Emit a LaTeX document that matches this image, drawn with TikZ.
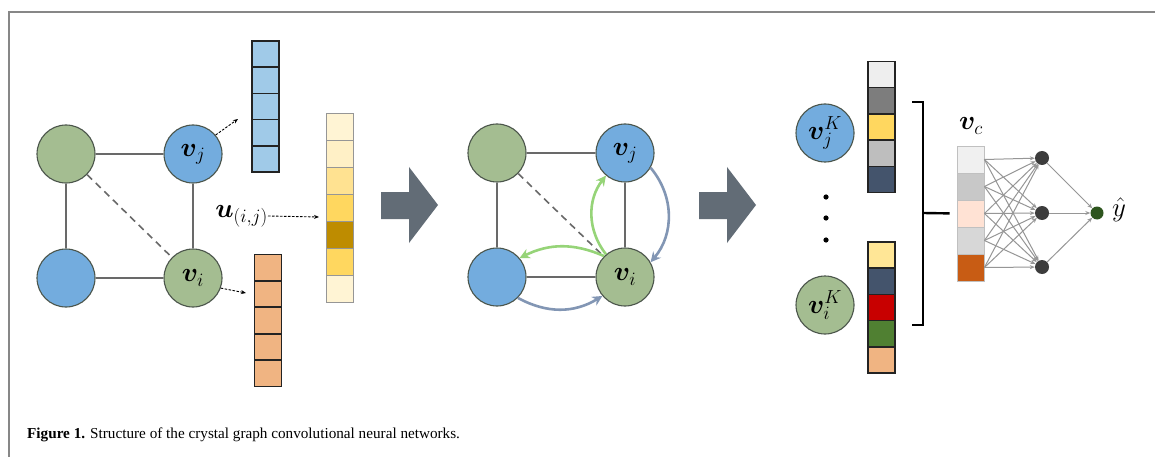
\RequirePackage{fix-cm}
\documentclass[tikz,border=0pt]{standalone}
\usepackage{fontspec}
\setmainfont{Liberation Serif}
\usepackage{amsmath,bm}
\usetikzlibrary{arrows.meta}
\begin{document}
\begin{tikzpicture}[x=1pt,y=-1pt,
  atom/.style={circle,draw=ringColor,line width=1.1pt,minimum size=58pt,inner sep=0pt,font=\fontsize{27}{30}\selectfont},
  bond/.style={draw=bondColor,line width=1.6pt},
  cell/.style={draw=cellColor,line width=1.3pt,minimum width=27pt,minimum height=26pt,inner sep=0pt},
  softcell/.style={draw=softColor,line width=0.8pt,minimum width=27pt,minimum height=27pt,inner sep=0pt},
  pointer/.style={draw=black,line width=0.9pt,dash pattern=on 2.5pt off 1.5pt,-{Stealth[length=5pt,width=4pt]}},
  hopgreen/.style={draw=hopGreen,line width=2.6pt,-{Stealth[length=10pt,width=10pt]}},
  hopblue/.style={draw=hopBlue,line width=2.6pt,-{Stealth[length=10pt,width=10pt]}},
  neuron/.style={circle,fill=neuronColor,minimum size=14pt,inner sep=0pt},
  wire/.style={draw=wireColor,line width=1pt,-{Stealth[length=5pt,width=4pt]}},
  mathlabel/.style={inner sep=0pt,font=\fontsize{27}{30}\selectfont}]
\definecolor{frameColor}{RGB}{135,135,135}
\definecolor{ringColor}{RGB}{75,85,75}
\definecolor{bondColor}{RGB}{105,105,105}
\definecolor{cellColor}{RGB}{35,35,35}
\definecolor{softColor}{RGB}{150,150,150}
\definecolor{atomGreen}{RGB}{164,189,145}
\definecolor{atomBlue}{RGB}{115,172,222}
\definecolor{hopGreen}{RGB}{150,212,120}
\definecolor{hopBlue}{RGB}{130,150,180}
\definecolor{arrowColor}{RGB}{98,108,118}
\definecolor{neuronColor}{RGB}{60,60,60}
\definecolor{outColor}{RGB}{45,85,30}
\definecolor{wireColor}{RGB}{150,150,150}
\definecolor{blueCell}{RGB}{160,202,232}
\definecolor{orangeCell}{RGB}{240,180,130}
\definecolor{yA}{RGB}{255,244,212}
\definecolor{yB}{RGB}{255,240,198}
\definecolor{yC}{RGB}{255,226,145}
\definecolor{yD}{RGB}{255,215,95}
\definecolor{yE}{RGB}{190,140,0}
\definecolor{kA}{RGB}{238,238,238}
\definecolor{kB}{RGB}{125,125,125}
\definecolor{kC}{RGB}{255,215,95}
\definecolor{kD}{RGB}{190,190,190}
\definecolor{kE}{RGB}{68,84,108}
\definecolor{kF}{RGB}{255,230,150}
\definecolor{kG}{RGB}{200,0,0}
\definecolor{kH}{RGB}{80,128,50}
\definecolor{kI}{RGB}{240,180,130}
\definecolor{cA}{RGB}{240,240,240}
\definecolor{cB}{RGB}{200,200,200}
\definecolor{cC}{RGB}{255,226,212}
\definecolor{cD}{RGB}{215,215,215}
\definecolor{cE}{RGB}{200,92,20}
\path[use as bounding box,fill=white] (0,0) rectangle (1155,457);

% frame
\path[draw=frameColor,line width=2pt] (1155,12) -- (8.5,12) -- (8.5,457);

% first graph
\node[atom,fill=atomGreen] (tl) at ( 66,154) {};
\node[atom,fill=atomBlue]  (vj) at (193,154) {$\bm{v}_j$};
\node[atom,fill=atomBlue]  (bl) at ( 66,278) {};
\node[atom,fill=atomGreen] (vi) at (193,278) {$\bm{v}_i$};
\path[bond] (tl) -- (vj);
\path[bond] (tl) -- (bl);
\path[bond] (vj) -- (vi);
\path[bond] (bl) -- (vi);
\path[bond,dashed,dash pattern=on 7pt off 5pt] (tl) -- (vi);

\foreach \k in {0,...,4}
  \node[cell,fill=blueCell] (b\k) at (265.5,{54.1+26.2*\k}) {};
\foreach \k in {0,...,4}
  \node[cell,fill=orangeCell] (o\k) at (268,{267.3+26.6*\k}) {};
\foreach \c [count=\k from 0] in {yA,yB,yC,yD,yE,yD,yA}
  \node[softcell,fill=\c] (y\k) at (339.5,{126.5+27*\k}) {};

\coordinate (pj) at (238,119);
\coordinate (pi) at (246,293);
\coordinate (pu) at (319,217);
\node[mathlabel,anchor=east] (ulab) at (268,216) {$\bm{u}_{(i,j)}$};
\path[pointer] (vj.40) -- (pj);
\path[pointer] (vi.-20) -- (pi);
\path[pointer] (ulab.east) -- (pu);

% big arrows
\path[fill=arrowColor] (381,192) -- (409,192) -- (409,167) -- (438,205) --
  (409,243) -- (409,219) -- (381,219) -- cycle;
\path[fill=arrowColor] (699,192) -- (727,192) -- (727,167) -- (756,205) --
  (727,243) -- (727,219) -- (699,219) -- cycle;

% second graph
\node[atom,fill=atomGreen] (tl2) at (497,153) {};
\node[atom,fill=atomBlue]  (vj2) at (625,153) {$\bm{v}_j$};
\node[atom,fill=atomBlue]  (bl2) at (497,277) {};
\node[atom,fill=atomGreen] (vi2) at (625,277) {$\bm{v}_i$};
\path[bond] (tl2) -- (vj2);
\path[bond] (tl2) -- (bl2);
\path[bond] (vj2) -- (vi2);
\path[bond] (bl2) -- (vi2);
\path[bond,dashed,dash pattern=on 7pt off 5pt] (tl2) -- (vi2);
\path[hopgreen] (vi2.130) to[bend left=38] (vj2.230);
\path[hopgreen] (vi2.135) to[bend right=25] (bl2.40);
\path[hopblue] (vj2.-30) to[bend left=40] (vi2.30);
\path[hopblue] (bl2.-45) to[bend right=30] (vi2.-140);

% readout
\node[atom,fill=atomBlue]  (vjK) at (825,133) {$\bm{v}_j^K$};
\node[atom,fill=atomGreen] (viK) at (825,305) {$\bm{v}_i^K$};
\fill (826,197) circle (2.6);
\fill (826,218) circle (2.6);
\fill (826,240) circle (2.6);
\foreach \c [count=\k from 0] in {kA,kB,kC,kD,kE}
  \node[cell,fill=\c] (t\k) at (881.5,{74.2+26.4*\k}) {};
\foreach \c [count=\k from 0] in {kF,kE,kG,kH,kI}
  \node[cell,fill=\c] (s\k) at (881.5,{255.1+26.2*\k}) {};
\path[draw=black,line width=2.4pt] (912,102) -- (923,102) -- (923,325) -- (912,325);
\coordinate (brk) at (923,213);

\foreach \c [count=\k from 0] in {cA,cB,cC,cD,cE}
  \node[softcell,draw=softColor!60,fill=\c] (c\k) at (970.5,{159.5+27*\k}) {};
\node[mathlabel] (vclab) at (971,126) {$\bm{v}_c$};
\path[draw=black,line width=2.4pt,shorten >=7pt] (brk) -- (c2.west);

\node[neuron] (h1) at (1042,158) {};
\node[neuron] (h2) at (1042,213) {};
\node[neuron] (h3) at (1042,267) {};
\node[neuron,fill=outColor,minimum size=13pt] (out) at (1097,213) {};
\node[mathlabel,anchor=west] (yhat) at (1112,210) {$\hat{y}$};
\foreach \a in {0,...,4}
  \foreach \b in {1,2,3}
    \path[wire] (c\a.east) -- (h\b);
\foreach \b in {1,2,3}
  \path[wire] (h\b) -- (out);

% caption
\node[anchor=base west,inner sep=0pt,font=\fontsize{15.2}{17}\selectfont] (cap) at (27,438)
  {\textbf{Figure 1.} Structure of the crystal graph convolutional neural networks.};
\end{tikzpicture}
\end{document}
